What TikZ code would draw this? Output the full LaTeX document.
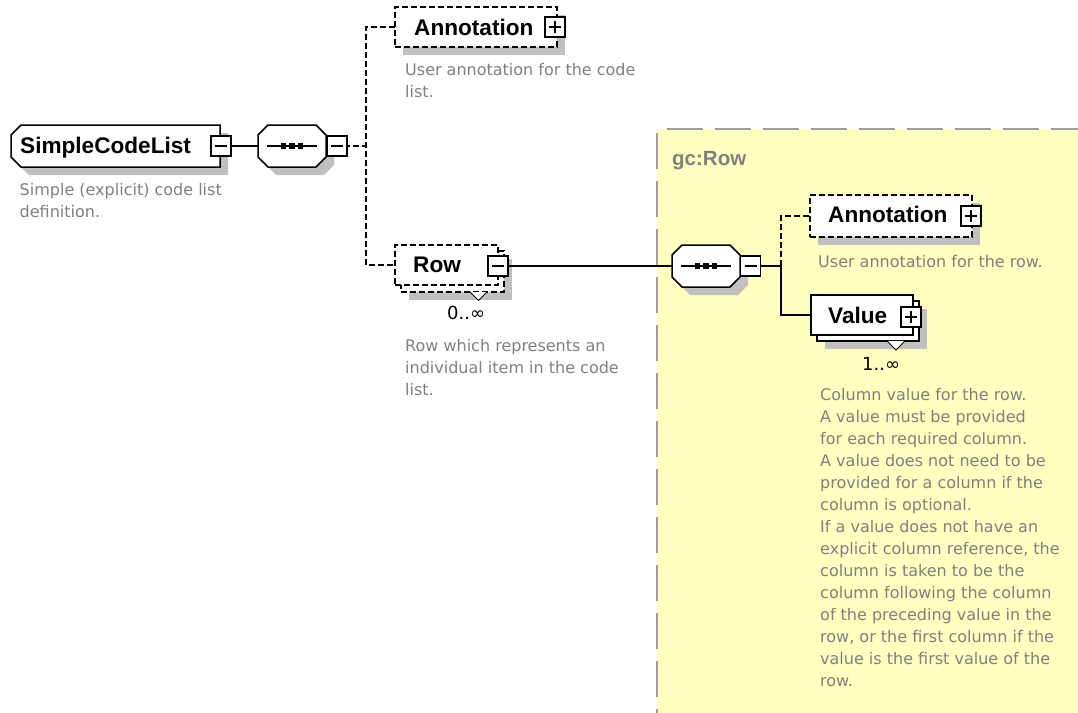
\documentclass[tikz,border=0pt]{standalone}
\usepackage{fontspec}
\setmainfont{DejaVu Sans}
\newfontfamily\namefont{Liberation Sans}
\usetikzlibrary{shadows}
\definecolor{panelfill}{RGB}{255,255,192}
\definecolor{shadowgray}{RGB}{192,192,192}
\definecolor{desctext}{RGB}{128,128,128}
\definecolor{panelborder}{RGB}{160,160,160}
\tikzset{
  elshadow/.style={drop shadow={shadow xshift=8pt,shadow yshift=-8pt,fill=shadowgray,opacity=1}},
  boxbase/.style={draw=black,line width=1.5pt,fill=white,inner sep=0pt,outer sep=0pt},
  elbox/.style={boxbase,rectangle},
  optbox/.style={boxbase,rectangle,dash pattern=on 6pt off 3pt},
  anchorbox/.style={rectangle,inner sep=0pt,outer sep=0pt},
  sqbox/.style={boxbase,rectangle,minimum width=20pt,minimum height=20pt},
  conn/.style={draw=black,line width=1.5pt},
  optconn/.style={conn,dash pattern=on 6pt off 3pt},
  glyph/.style={draw=black,line width=1.5pt},
  nametext/.style={font=\namefont\bfseries\fontsize{22.6}{24}\selectfont,inner sep=0pt,anchor=base west},
  desc/.style={font=\fontsize{16}{22}\selectfont,text=desctext,align=left,inner sep=0pt,anchor=north west},
  multtext/.style={font=\fontsize{18}{20}\selectfont,inner sep=0pt,anchor=base west},
  paneltitle/.style={font=\namefont\bfseries\fontsize{20.5}{22}\selectfont,text=desctext,inner sep=0pt,anchor=base west},
  panelline/.style={draw=panelborder,line width=2pt,dash pattern=on 36pt off 12pt},
  notch/.style={draw=black,line width=1pt,fill=white},
}
\begin{document}
\begin{tikzpicture}[x=1pt,y=-1pt]
\useasboundingbox (0,0) rectangle (1078,712);
\fill[white] (0,0) rectangle (1078,712);
% panel
\fill[panelfill] (657,129) rectangle (1080,714);
\draw[panelline] (667,129) -- (1080,129);
\draw[panelline] (657,133) -- (657,714);
\node[paneltitle] (tpanel) at (672,165) {gc:Row};

% root element (chamfered on the left)
\node[anchorbox,minimum width=209pt,minimum height=42pt] (scl) at (115.5,146) {};
\path[boxbase,elshadow] ([xshift=10pt]scl.north west) -- (scl.north east) -- (scl.south east)
  -- ([xshift=10pt]scl.south west) -- ([yshift=10pt]scl.south west) -- ([yshift=-10pt]scl.north west) -- cycle;

% sequence compositors (octagons)
\node[anchorbox,minimum width=68pt,minimum height=42pt] (seqa) at (292,146) {};
\node[anchorbox,minimum width=68pt,minimum height=42pt] (seqb) at (706,266) {};
\foreach \q in {seqa,seqb}{
  \path[boxbase,elshadow] ([xshift=10pt]\q.north west) -- ([xshift=-10pt]\q.north east)
    -- ([yshift=-10pt]\q.north east) -- ([yshift=10pt]\q.south east)
    -- ([xshift=-10pt]\q.south east) -- ([xshift=10pt]\q.south west)
    -- ([yshift=10pt]\q.south west) -- ([yshift=-10pt]\q.north west) -- cycle;
}

% left part
\node[optbox,minimum width=162pt,minimum height=40pt,elshadow] (anna) at (476,27) {};
\node[optbox,minimum width=103pt,minimum height=41pt,elshadow] (rowb) at (452.5,271.5) {};
\fill[white] (470,292) -- (478.5,300.5) -- (487,292) -- cycle;
\draw[notch] (470,292) -- (478.5,300.5) -- (487,292);
\node[optbox,minimum width=103pt,minimum height=40pt] (rowf) at (446.5,265) {};

% right part
\node[optbox,minimum width=162pt,minimum height=42pt,elshadow] (annb) at (891,216) {};
\node[elbox,minimum width=102pt,minimum height=40pt,elshadow] (valb) at (868,321) {};
\fill[white] (887,341) -- (896,350) -- (905,341) -- cycle;
\draw[notch] (887,341) -- (896,350) -- (905,341);
\node[elbox,minimum width=102pt,minimum height=40pt] (valf) at (862,315) {};

% connectors
\coordinate (jl) at (366,146);
\coordinate (jr) at (781,266);
\draw[conn] (scl.east) -- (seqa.west);
\draw[optconn] (seqa.east) -- (jl);
\draw[optconn] (anna.west) -| (jl) |- (rowf.west);
\draw[conn] (498,266) -- (seqb.west);
\draw[conn] (seqb.east) -- (jr);
\draw[optconn] (jr) |- (annb.west);
\draw[conn] (jr) |- (valf.west);

% expand/collapse squares
\node[sqbox] (sqa) at (221,146) {};
\node[sqbox] (sqb) at (337,146) {};
\node[sqbox] (sqc) at (555,27) {};
\node[sqbox] (sqd) at (498,266) {};
\node[sqbox] (sqe) at (750.5,266) {};
\node[sqbox] (sqf) at (971,216) {};
\node[sqbox] (sqg) at (911,317) {};
\foreach \s in {sqa,sqb,sqc,sqd,sqe,sqf,sqg}
  \draw[glyph] ([xshift=-6pt]\s.center) -- ([xshift=6pt]\s.center);
\foreach \s in {sqc,sqf,sqg}
  \draw[glyph] ([yshift=-6pt]\s.center) -- ([yshift=6pt]\s.center);

% sequence glyphs
\foreach \q in {seqa,seqb}{
  \draw[glyph] ([xshift=-25pt]\q.center) -- ([xshift=25pt]\q.center);
  \foreach \dx in {-8.5,0,8.5}
    \fill[black] ([xshift=\dx pt]\q.center) +(-2.8,-2.8) rectangle +(2.8,2.8);
}

% names
\node[nametext] (tscl) at (20,153) {SimpleCodeList};
\node[nametext] (tanna) at (414,35.5) {Annotation};
\node[nametext] (trow) at (413,272.5) {Row};
\node[nametext] (tannb) at (828,222.5) {Annotation};
\node[nametext] (tval) at (828,323) {Value};
\node[multtext] (mrow) at (447,319.5) {0..∞};
\node[multtext] (mval) at (862,370.5) {1..∞};

% descriptions
\node[desc] (dscl) at (19.5,182.8) {Simple (explicit) code list\\definition.};
\node[desc] (danna) at (405,63.3) {User annotation for the code\\list.};
\node[desc] (drow) at (405,339.5) {Row which represents an\\individual item in the code\\list.};
\node[desc] (dannb) at (818,254.8) {User annotation for the row.};
\node[desc] (dval) at (820,388.5) {Column value for the row.\\A value must be provided\\for each required column.\\A value does not need to be\\provided for a column if the\\column is optional.\\If a value does not have an\\explicit column reference, the\\column is taken to be the\\column following the column\\of the preceding value in the\\row, or the first column if the\\value is the first value of the\\row.};
\end{tikzpicture}
\end{document}
